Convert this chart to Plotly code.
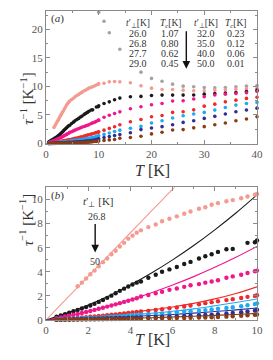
import plotly.graph_objects as go

# ---------------- data ----------------
T_DENSE = [0.5, 0.7, 0.9, 1.1, 1.3, 1.5, 1.7, 1.9, 2.1, 2.3, 2.5, 2.7, 2.9, 3.1, 3.3, 3.5, 3.7, 3.9, 4.1, 4.3]
T_SPARSE = [4.5, 4.85, 5.2, 5.5, 5.85, 6.2, 6.55, 6.85, 7.25, 7.55, 7.85, 8.15, 8.55, 8.85, 9.25, 9.55, 9.9]
T_HIGH = [10, 11, 12, 13, 14, 16, 18, 20, 22, 24, 26, 28, 30, 32, 34, 36, 38, 40]
T_FIT = [0, 1, 2, 3, 4, 5, 6, 7, 8, 9, 10]

TPERP = ["26.0", "26.8", "27.7", "29.0", "32.0", "35.0", "40.0", "50.0"]
TC = ["1.07", "0.80", "0.62", "0.45", "0.23", "0.12", "0.06", "0.01"]
COLORS = ["#a3a3a3", "#f59a90", "#1a1a1a", "#f0168c", "#ee2a2a", "#1eaaf0", "#2e2e96", "#8a3c10"]

gray_dense = [None] * 20
gray_sparse = [None] * 17
gray_high = [23.0, 21.4, 19.4, None, 16.5, None, 12.5, 11.4, 10.9, 10.4, 10.05, 9.93, 9.8, 9.76, 9.8, 9.93, 10.05, 10.15]

salmon_dense = [None, None, None, None, None, 2.8, 3.1, 3.45, 3.8, 4.1, 4.45, 4.8, 5.1, 5.45, 5.75, 6.1, 6.4, 6.75, 7.0, 7.25]
salmon_sparse = [7.44, 7.71, 7.93, 8.2, 8.4, 8.6, 8.82, 9.0, 9.23, 9.36, 9.56, 9.7, 9.86, 9.95, 10.1, 10.25, 10.4]
salmon_high = [10.45, 10.55, 10.8, 10.85, 10.8, 10.65, 10.1, 9.7, 9.45, 9.45, 9.35, 9.25, 9.23, 9.35, 9.4, 9.5, 9.6, 9.7]

black_dense = [0.28, 0.38, 0.48, 0.6, 0.72, 0.83, 0.95, 1.07, 1.2, 1.34, 1.5, 1.66, 1.84, 2.02, 2.22, 2.42, 2.6, 2.78, 2.95, 3.1]
black_sparse = [3.2, 3.5, 3.75, 4.0, 4.2, 4.4, 4.65, 4.82, 5.1, 5.29, 5.45, 5.65, 5.87, 5.9, None, 6.4, 6.45]
black_high = [6.6, 7.0, 7.3, 7.67, 7.96, 8.2, 8.25, 8.4, 8.48, 8.48, 8.48, 8.5, 8.65, 8.77, 8.83, 8.94, 9.1, 9.35]

magenta_dense = [0.15, 0.22, 0.29, 0.36, 0.43, 0.5, 0.58, 0.66, 0.75, 0.84, 0.93, 1.02, 1.11, 1.2, 1.3, 1.4, 1.5, 1.6, 1.7, 1.8]
magenta_sparse = [1.95, 2.08, 2.22, 2.35, 2.5, 2.62, 2.75, 2.88, 2.98, 3.1, 3.2, 3.3, 3.5, 3.62, 3.75, 3.9, 4.05]
magenta_high = [4.1, 4.6, 4.95, 5.25, 5.55, 6.1, 6.45, 6.8, 7.0, 7.45, 7.5, 7.8, 8.2, 8.5, 8.65, 8.77, 8.9, 9.1]

red_dense = [0.05, 0.08, 0.1, 0.13, 0.15, 0.18, 0.21, 0.24, 0.27, 0.3, 0.33, 0.36, 0.4, 0.43, 0.47, 0.5, 0.54, 0.58, 0.62, 0.66]
red_sparse = [0.7, 0.76, 0.83, 0.9, 0.97, 1.04, 1.12, 1.2, 1.3, 1.4, 1.48, 1.55, 1.65, 1.73, 1.83, 1.92, 2.0]
red_high = [2.05, 2.35, 2.65, 2.95, 3.3, 3.83, 4.2, 4.7, 4.9, 5.45, 5.57, 5.9, 6.55, 6.9, 7.3, 7.6, 7.9, 8.1]

blue_dense = [0.04, 0.06, 0.07, 0.09, 0.1, 0.12, 0.14, 0.16, 0.18, 0.2, 0.22, 0.24, 0.26, 0.28, 0.3, 0.32, 0.34, 0.37, 0.39, 0.41]
blue_sparse = [0.43, 0.47, 0.51, 0.55, 0.59, 0.63, 0.68, 0.72, 0.77, 0.82, 0.87, 0.93, 1.0, 1.06, 1.14, 1.22, 1.32]
blue_high = [1.38, 1.6, 1.85, 2.1, 2.35, 2.67, 3.0, 3.6, 4.0, 4.47, 4.88, 5.17, 5.45, 5.86, 6.3, 6.73, 7.0, 7.2]

navy_dense = [0.02, 0.03, 0.04, 0.05, 0.06, 0.07, 0.08, 0.09, 0.1, 0.11, 0.12, 0.13, 0.14, 0.15, 0.16, 0.17, 0.18, 0.19, 0.2, 0.21]
navy_sparse = [0.22, 0.24, 0.26, 0.28, 0.3, 0.32, 0.34, 0.36, 0.39, 0.42, 0.45, 0.49, 0.54, 0.58, 0.64, 0.7, 0.78]
navy_high = [0.85, 1.05, 1.22, 1.39, 1.57, 1.9, 2.44, 2.73, 2.96, 3.3, 3.7, 4.0, 4.4, 4.76, 5.17, 5.57, 5.87, 6.2]

brown_dense = [0.01, 0.01, 0.02, 0.02, 0.03, 0.03, 0.04, 0.04, 0.05, 0.05, 0.06, 0.06, 0.07, 0.07, 0.08, 0.08, 0.09, 0.09, 0.1, 0.1]
brown_sparse = [0.11, 0.12, 0.13, 0.14, 0.15, 0.16, 0.17, 0.18, 0.2, 0.21, 0.23, 0.25, 0.28, 0.31, 0.35, 0.39, 0.44]
brown_high = [0.46, 0.55, 0.64, 0.72, 0.93, 1.05, 1.28, 1.69, 1.97, 2.38, 2.44, 2.75, 2.96, 3.3, 3.6, 4.0, 4.3, 4.7]

# fit curves (panel b)
fit_salmon = [0, 1.81, 3.62, 5.43, 7.24, 9.05, 10.86, 12.67, 14.48, 16.29, 18.1]
fit_black = [0, 0.57, 1.25, 2.02, 2.91, 3.9, 4.99, 6.18, 7.48, 8.88, 10.39]
fit_magenta = [0, 0.32, 0.71, 1.16, 1.68, 2.26, 2.9, 3.6, 4.37, 5.2, 6.1]
fit_red = [0, 0.12, 0.27, 0.43, 0.62, 0.84, 1.08, 1.38, 1.75, 2.2, 2.75]
fit_blue = [0, 0.09, 0.19, 0.3, 0.42, 0.56, 0.72, 0.92, 1.18, 1.45, 1.74]
fit_navy = [0, 0.06, 0.13, 0.2, 0.28, 0.37, 0.46, 0.57, 0.7, 0.84, 1.0]
fit_brown = [0, 0.03, 0.06, 0.1, 0.14, 0.19, 0.25, 0.31, 0.38, 0.46, 0.55]

SERIES = [
    (gray_dense, gray_sparse, gray_high, None),
    (salmon_dense, salmon_sparse, salmon_high, fit_salmon),
    (black_dense, black_sparse, black_high, fit_black),
    (magenta_dense, magenta_sparse, magenta_high, fit_magenta),
    (red_dense, red_sparse, red_high, fit_red),
    (blue_dense, blue_sparse, blue_high, fit_blue),
    (navy_dense, navy_sparse, navy_high, fit_navy),
    (brown_dense, brown_sparse, brown_high, fit_brown),
]

# ---------------- figure ----------------
fig = go.Figure()
T_ALL = T_DENSE + T_SPARSE + T_HIGH

for (dense, sparse, high, fit), col in zip(SERIES, COLORS):
    yall = dense + sparse + high
    fig.add_trace(go.Scatter(x=T_ALL, y=yall, mode="markers", xaxis="x", yaxis="y",
                             marker=dict(color=col, size=3.6), showlegend=False, cliponaxis=False))

for (dense, sparse, high, fit), col in zip(SERIES, COLORS):
    if fit is None:
        continue
    fig.add_trace(go.Scatter(x=T_FIT, y=fit, mode="lines", xaxis="x2", yaxis="y2",
                             line=dict(color=col, width=1.1, shape="spline"), showlegend=False))
for (dense, sparse, high, fit), col in zip(SERIES, COLORS):
    if fit is None:
        continue
    xs, ys = [], []
    for t, v in zip(T_ALL, dense + sparse + high):
        if t <= 10 and v is not None:
            xs.append(t)
            ys.append(v)
    fig.add_trace(go.Scatter(x=xs, y=ys, mode="markers", xaxis="x2", yaxis="y2",
                             marker=dict(color=col, size=4.4), showlegend=False, cliponaxis=False))

FONT = "Liberation Serif"
TICKC = "#555555"
axis_common = dict(showline=True, linecolor="#8a8a8a", linewidth=1, mirror="allticks",
                   ticks="inside", ticklen=4, tickcolor="#8a8a8a", showgrid=False, zeroline=False,
                   ticklabeloverflow="allow",
                   tickfont=dict(family=FONT, size=11, color=TICKC))

fig.update_layout(
    width=257, height=344,
    margin=dict(l=38, r=3, t=2, b=32),
    paper_bgcolor="white", plot_bgcolor="white",
    xaxis=dict(domain=[0, 1], anchor="y", range=[0, 40], tickvals=[0, 10, 20, 30, 40],
               minor=dict(ticks="inside", ticklen=2, dtick=5, tickcolor="#8a8a8a"), **axis_common),
    yaxis=dict(domain=[0.571, 1], anchor="x", range=[0, 23.2], tickvals=[0, 5, 10, 15, 20],
               minor=dict(ticks="inside", ticklen=2, dtick=2.5, tickcolor="#8a8a8a"), **axis_common),
    xaxis2=dict(domain=[0, 1], anchor="y2", range=[0, 10], tickvals=[0, 2, 4, 6, 8, 10],
                minor=dict(ticks="inside", ticklen=2, dtick=1, tickcolor="#8a8a8a"), **axis_common),
    yaxis2=dict(domain=[0, 0.429], anchor="x2", range=[0, 11], tickvals=[0, 2, 4, 6, 8, 10],
                minor=dict(ticks="inside", ticklen=2, dtick=1, tickcolor="#8a8a8a"), **axis_common),
)

ann = []
TXT = "#333333"
for yp in (0.806, 0.232):
    ann.append(dict(xref="paper", yref="paper", x=-0.1435, y=yp, textangle=-90, showarrow=False,
                    text="<i>τ</i><sup>−1</sup> [K<sup>−1</sup>]", font=dict(family=FONT, size=15, color=TXT)))
for yp in (0.484, -0.097):
    ann.append(dict(xref="paper", yref="paper", x=0.505, y=yp, showarrow=False,
                    text="<i>T</i> [K]", font=dict(family=FONT, size=16, color=TXT)))

ann.append(dict(xref="x", yref="y", x=0.6, y=21.9, xanchor="left", showarrow=False,
                text="(<i>a</i>)", font=dict(family=FONT, size=11, color=TXT)))
ann.append(dict(xref="x2", yref="y2", x=0.15, y=10.35, xanchor="left", showarrow=False,
                text="(<i>b</i>)", font=dict(family=FONT, size=11, color=TXT)))

LFS = 10
HDR_T = "<i>t</i>′<sub>⊥</sub>[K]"
HDR_C = "<i>T<sub>c</sub></i>[K]"
col_x = [17.4, 23.6, 30.3, 36.0]
row_y = [19.2, 17.5, 15.8, 14.1]
for j, h in enumerate([HDR_T, HDR_C, HDR_T, HDR_C]):
    ann.append(dict(xref="x", yref="y", x=col_x[j], y=21.0, showarrow=False, text=h,
                    font=dict(family=FONT, size=9.5, color=TXT)))
for i in range(4):
    for j, txt in enumerate([TPERP[i], TC[i], TPERP[i + 4], TC[i + 4]]):
        ann.append(dict(xref="x", yref="y", x=col_x[j], y=row_y[i], showarrow=False, text=txt,
                        font=dict(family=FONT, size=LFS, color=TXT)))
ann.append(dict(xref="x", yref="y", x=26.6, y=13.1, axref="x", ayref="y", ax=26.6, ay=19.9,
                showarrow=True, arrowhead=2, arrowsize=1.1, arrowwidth=1.4, arrowcolor="#111111", text=""))

ann.append(dict(xref="x2", yref="y2", x=2.5, y=9.75, showarrow=False, text="<i>t</i>′<sub>⊥</sub> [K]",
                font=dict(family=FONT, size=11, color=TXT)))
ann.append(dict(xref="x2", yref="y2", x=2.42, y=8.6, showarrow=False, text=TPERP[1],
                font=dict(family=FONT, size=10, color=TXT)))
ann.append(dict(xref="x2", yref="y2", x=2.3, y=4.85, showarrow=False, text="50",
                font=dict(family=FONT, size=10, color=TXT)))
ann.append(dict(xref="x2", yref="y2", x=2.33, y=5.6, axref="x2", ayref="y2", ax=2.33, ay=8.1,
                showarrow=True, arrowhead=2, arrowsize=1.1, arrowwidth=1.4, arrowcolor="#111111", text=""))

fig.update_layout(annotations=ann)
fig.write_html("out.html")
